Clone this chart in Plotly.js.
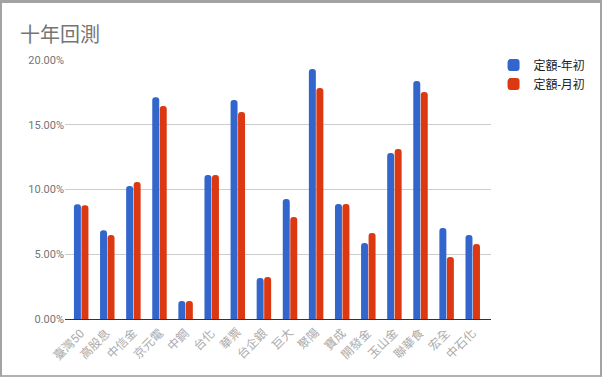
<!DOCTYPE html>
<html>
<head>
<meta charset="utf-8">
<script src="https://cdn.plot.ly/plotly-3.0.1.min.js"></script>
<style>
html,body{margin:0;padding:0;background:#fff;}
#frame{position:absolute;left:0;top:0;width:598px;height:372px;border-left:2px solid #a3a3a3;border-top:3px solid #a3a3a3;border-right:2px solid #a3a3a3;border-bottom:2px solid #b0b0b0;overflow:hidden;}
#chart{width:598px;height:372px;}
</style>
</head>
<body>
<div id="frame"><div id="chart"></div></div>
<script>
const categories = ["臺灣50","高股息","中信金","京元電","中鋼","台化","華票","台企銀","巨大","聚陽","寶成","開發金","玉山金","聯華食","宏全","中石化"];
const seriesNames = ["定額-年初","定額-月初"];
const yearStart = [0.0886,0.0685,0.1027,0.1712,0.0139,0.1112,0.1691,0.0317,0.0927,0.1930,0.0888,0.0587,0.1282,0.1838,0.0703,0.0649];
const monthStart = [0.0878,0.0649,0.1058,0.1645,0.0139,0.1112,0.1598,0.0324,0.0788,0.1784,0.0888,0.0664,0.1313,0.1753,0.0479,0.0579];
const yTicks = [0,0.05,0.10,0.15,0.20];
const yTickText = ["0.00%","5.00%","10.00%","15.00%","20.00%"];

const font = "Roboto, 'Noto Sans CJK TC', 'Noto Sans CJK SC', Arial, sans-serif";
const traces = [
  {type:"bar", name:seriesNames[0], legendgroup:"a", x:categories, y:yearStart, marker:{color:"#3366cc", cornerradius:3}},
  {type:"bar", name:seriesNames[1], legendgroup:"b", x:categories, y:monthStart, marker:{color:"#dc3912", cornerradius:3}}
];
const labelAnnotations = categories.map(c => ({
  x:c, xref:"x", y:0, yref:"paper", text:c, showarrow:false,
  textangle:-45, xanchor:"right", yanchor:"top", xshift:9, yshift:-4,
  font:{family:font, size:12, color:"#ababab"}
}));
const layout = {
  width:598, height:372,
  margin:{l:63, r:109, t:57, b:56},
  paper_bgcolor:"#fff", plot_bgcolor:"#fff",
  title:{text:"十年回測", x:0.03, xanchor:"left", y:0.915, yanchor:"middle", font:{family:font, size:20, color:"#757575"}},
  barmode:"group", bargap:0.425, bargroupgap:0.07,
  xaxis:{type:"category", range:[-0.62, categories.length-0.3], autorange:false, showticklabels:false, automargin:false, showline:true, linecolor:"#333", linewidth:1, showgrid:false, ticks:""},
  yaxis:{range:[0,0.2], tickvals:yTicks, ticktext:yTickText, tickfont:{family:font, size:11, color:"#757575"}, gridcolor:"#cccccc", zeroline:false, showline:false, ticks:"", ticklen:0},
  legend:{xref:"container", yref:"container", x:0.822, y:0.872, xanchor:"left", yanchor:"top", font:{family:font, size:12, color:"#222"}, tracegroupgap:0},
  annotations:labelAnnotations,
  showlegend:true
};
Plotly.newPlot("chart", traces, layout, {displayModeBar:false, staticPlot:true});
</script>
</body>
</html>
